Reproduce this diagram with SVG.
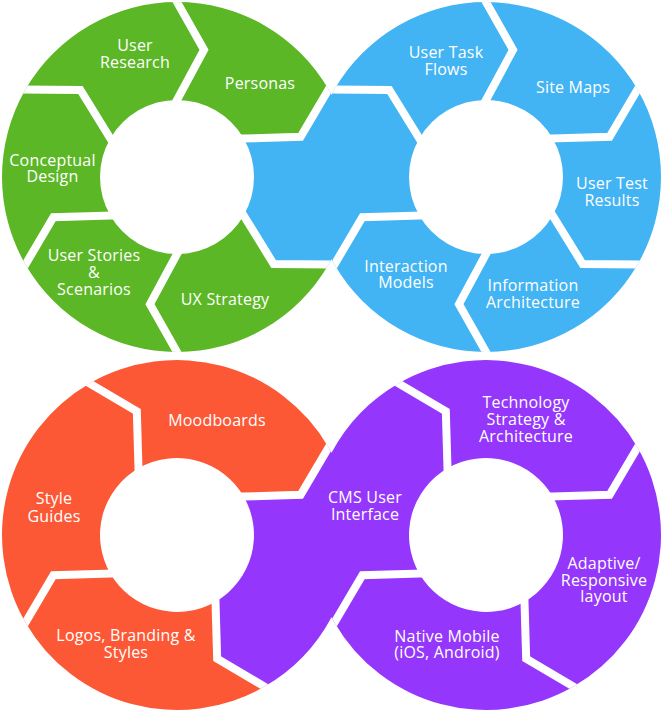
<svg xmlns="http://www.w3.org/2000/svg" width="663" height="712" viewBox="0 0 663 712">
<defs>
<style>
.g{fill:#5BB725}.b{fill:#42B4F4}.o{fill:#FC5836}.p{fill:#9436FB}
text{font-family:"Open Sans","Liberation Sans",sans-serif;font-size:16px;letter-spacing:0.2px;fill:#fff;text-anchor:middle}
.sep{fill:none;stroke:#fff;stroke-width:8;stroke-linejoin:miter;stroke-linecap:square}
</style>
<clipPath id="cg"><circle cx="177" cy="177" r="175"/></clipPath>
<clipPath id="cb"><circle cx="486" cy="177" r="175"/></clipPath>
<clipPath id="co"><circle cx="177" cy="535" r="175"/></clipPath>
<clipPath id="cp"><circle cx="486" cy="535" r="175"/></clipPath>
</defs>
<rect width="663" height="712" fill="#fff"/>

<!-- Green ring -->
<g id="user-research"><path class="g" d="M110.32,138.5 L80.39,90.01 L25.45,89.5 A175,175 0 0 1 177,2 L204.03,49.84 L177,100 A77,77 0 0 0 110.32,138.5 Z"/><text x="135" y="51">User</text><text x="135" y="68">Research</text></g>
<g id="personas"><path class="g" d="M177,100 L204.03,49.84 L177,2 A175,175 0 0 1 328.55,89.5 L300.64,136.83 L243.68,138.5 A77,77 0 0 0 177,100 Z"/><text x="260" y="89">Personas</text></g>
<g id="ux-strategy"><path class="g" d="M243.68,215.5 L273.61,263.99 L328.55,264.5 A175,175 0 0 1 177,352 L149.97,304.16 L177,254 A77,77 0 0 0 243.68,215.5 Z"/><text x="225" y="305">UX Strategy</text></g>
<g id="user-stories"><path class="g" d="M177,254 L149.97,304.16 L177,352 A175,175 0 0 1 25.45,264.5 L53.36,217.17 L110.32,215.5 A77,77 0 0 0 177,254 Z"/><text x="94" y="261">User Stories</text><text x="94" y="278">&amp;</text><text x="94" y="295">Scenarios</text></g>
<g id="conceptual-design"><path class="g" d="M110.32,215.5 L53.36,217.17 L25.45,264.5 A175,175 0 0 1 25.45,89.5 L80.39,90.01 L110.32,138.5 A77,77 0 0 0 110.32,215.5 Z"/><text x="52.5" y="166">Conceptual</text><text x="52.5" y="182">Design</text></g>

<!-- Blue ring -->
<g id="blue-link"><path class="b" d="M243.68,138.5 L300.64,136.83 L328.55,89.5 A175,175 0 0 1 331.5,94.81 A175,175 0 0 1 334.45,89.5 L389.39,90.01 L419.32,138.5 A77,77 0 0 0 419.32,215.5 L362.36,217.17 L334.45,264.5 A175,175 0 0 1 331.5,259.19 A175,175 0 0 1 328.55,264.5 L273.61,263.99 L243.68,215.5 A77,77 0 0 0 243.68,138.5 Z"/></g>
<g id="user-task-flows"><path class="b" d="M419.32,138.5 L389.39,90.01 L334.45,89.5 A175,175 0 0 1 486,2 L513.03,49.84 L486,100 A77,77 0 0 0 419.32,138.5 Z"/><text x="446" y="58">User Task</text><text x="446" y="75">Flows</text></g>
<g id="site-maps"><path class="b" d="M486,100 L513.03,49.84 L486,2 A175,175 0 0 1 637.55,89.5 L609.64,136.83 L552.68,138.5 A77,77 0 0 0 486,100 Z"/><text x="573" y="93">Site Maps</text></g>
<g id="user-test-results"><path class="b" d="M552.68,138.5 L609.64,136.83 L637.55,89.5 A175,175 0 0 1 637.55,264.5 L582.61,263.99 L552.68,215.5 A77,77 0 0 0 552.68,138.5 Z"/><text x="612" y="189">User Test</text><text x="612" y="206">Results</text></g>
<g id="information-architecture"><path class="b" d="M552.68,215.5 L582.61,263.99 L637.55,264.5 A175,175 0 0 1 486,352 L458.97,304.16 L486,254 A77,77 0 0 0 552.68,215.5 Z"/><text x="533" y="291">Information</text><text x="533" y="308">Architecture</text></g>
<g id="interaction-models"><path class="b" d="M486,254 L458.97,304.16 L486,352 A175,175 0 0 1 334.45,264.5 L362.36,217.17 L419.32,215.5 A77,77 0 0 0 486,254 Z"/><text x="406" y="272">Interaction</text><text x="406" y="288">Models</text></g>

<!-- Orange ring -->
<g id="moodboards"><path class="o" d="M138.5,468.32 L136.83,411.36 L89.5,383.45 A175,175 0 0 1 328.55,447.5 L300.64,494.83 L243.68,496.5 A77,77 0 0 0 138.5,468.32 Z"/><text x="217" y="426">Moodboards</text></g>
<g id="logos-branding"><path class="o" d="M215.5,601.68 L217.17,658.64 L264.5,686.55 A175,175 0 0 1 25.45,622.5 L53.36,575.17 L110.32,573.5 A77,77 0 0 0 215.5,601.68 Z"/><text x="126" y="641">Logos, Branding &amp;</text><text x="126" y="658">Styles</text></g>
<g id="style-guides"><path class="o" d="M110.32,573.5 L53.36,575.17 L25.45,622.5 A175,175 0 0 1 89.5,383.45 L136.83,411.36 L138.5,468.32 A77,77 0 0 0 110.32,573.5 Z"/><text x="54" y="504">Style</text><text x="54" y="522">Guides</text></g>

<!-- Purple ring -->
<g id="cms-user-interface"><path class="p" d="M243.68,496.5 L300.64,494.83 L328.55,447.5 A175,175 0 0 1 331.5,452.81 A175,175 0 0 1 398.5,383.45 L445.83,411.36 L447.5,468.32 A77,77 0 0 0 419.32,573.5 L362.36,575.17 L334.45,622.5 A175,175 0 0 1 331.5,617.19 A175,175 0 0 1 264.5,686.55 L217.17,658.64 L215.5,601.68 A77,77 0 0 0 243.68,496.5 Z"/><text x="365" y="503">CMS User</text><text x="365" y="520">Interface</text></g>
<g id="technology-strategy"><path class="p" d="M447.5,468.32 L445.83,411.36 L398.5,383.45 A175,175 0 0 1 637.55,447.5 L609.64,494.83 L552.68,496.5 A77,77 0 0 0 447.5,468.32 Z"/><text x="526" y="408">Technology</text><text x="526" y="425">Strategy &amp;</text><text x="526" y="442">Architecture</text></g>
<g id="adaptive-layout"><path class="p" d="M552.68,496.5 L609.64,494.83 L637.55,447.5 A175,175 0 0 1 573.5,686.55 L526.17,658.64 L524.5,601.68 A77,77 0 0 0 552.68,496.5 Z"/><text x="604" y="568.5">Adaptive/</text><text x="604" y="586">Responsive</text><text x="604" y="602">layout</text></g>
<g id="native-mobile"><path class="p" d="M524.5,601.68 L526.17,658.64 L573.5,686.55 A175,175 0 0 1 334.45,622.5 L362.36,575.17 L419.32,573.5 A77,77 0 0 0 524.5,601.68 Z"/><text x="447" y="642">Native Mobile</text><text x="447" y="658">(iOS, Android)</text></g>

<!-- Separators -->
<g id="separators">
<g clip-path="url(#cg)">
<polyline class="sep" points="243.68,215.5 273.61,263.99 328.55,264.5"/>
<polyline class="sep" points="177,254 149.97,304.16 177,352"/>
<polyline class="sep" points="110.32,215.5 53.36,217.17 25.45,264.5"/>
<polyline class="sep" points="110.32,138.5 80.39,90.01 25.45,89.5"/>
<polyline class="sep" points="177,100 204.03,49.84 177,2"/>
<polyline class="sep" points="243.68,138.5 300.64,136.83 328.55,89.5"/>
</g>
<g clip-path="url(#cb)">
<polyline class="sep" points="552.68,215.5 582.61,263.99 637.55,264.5"/>
<polyline class="sep" points="486,254 458.97,304.16 486,352"/>
<polyline class="sep" points="419.32,215.5 362.36,217.17 334.45,264.5"/>
<polyline class="sep" points="419.32,138.5 389.39,90.01 334.45,89.5"/>
<polyline class="sep" points="486,100 513.03,49.84 486,2"/>
<polyline class="sep" points="552.68,138.5 609.64,136.83 637.55,89.5"/>
</g>
<g clip-path="url(#co)">
<polyline class="sep" points="215.5,601.68 217.17,658.64 264.5,686.55"/>
<polyline class="sep" points="110.32,573.5 53.36,575.17 25.45,622.5"/>
<polyline class="sep" points="138.5,468.32 136.83,411.36 89.5,383.45"/>
<polyline class="sep" points="243.68,496.5 300.64,494.83 328.55,447.5"/>
</g>
<g clip-path="url(#cp)">
<polyline class="sep" points="524.5,601.68 526.17,658.64 573.5,686.55"/>
<polyline class="sep" points="419.32,573.5 362.36,575.17 334.45,622.5"/>
<polyline class="sep" points="447.5,468.32 445.83,411.36 398.5,383.45"/>
<polyline class="sep" points="552.68,496.5 609.64,494.83 637.55,447.5"/>
</g>
</g>
</svg>
